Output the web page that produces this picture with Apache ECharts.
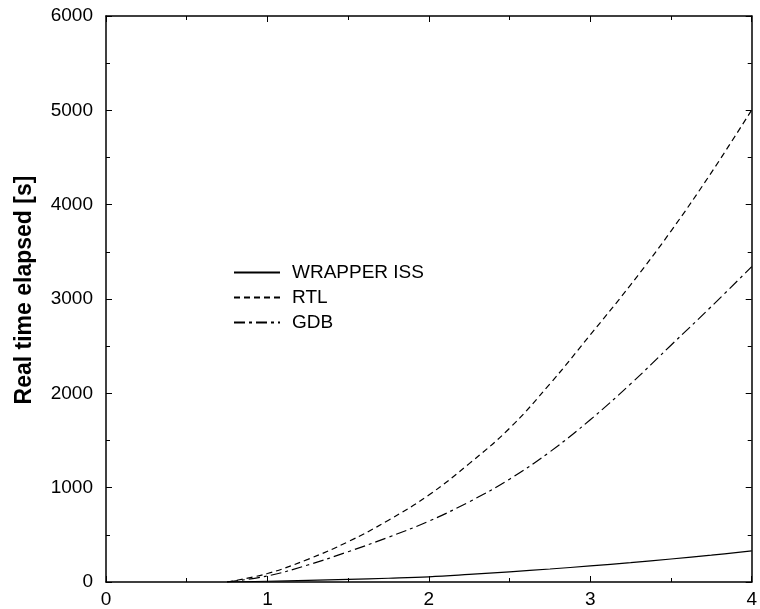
<!DOCTYPE html>
<html>
<head>
<meta charset="utf-8">
<script src="https://cdn.jsdelivr.net/npm/echarts@6/dist/echarts.min.js"></script>
<style>
html, body { margin: 0; padding: 0; background: #fff; }
#main { width: 760px; height: 609px; }
</style>
</head>
<body>
<div id="main"></div>
<script>
var xs = [0.75, 1, 1.25, 1.5, 1.75, 2, 2.25, 2.5, 2.75, 3, 3.25, 3.5, 3.75, 4];
var wrapperIss = [0, 8, 17, 28, 40, 55, 80, 108, 138, 170, 205, 244, 285, 329];
var rtl = [0, 90, 240, 427, 655, 922, 1255, 1630, 2100, 2620, 3150, 3720, 4340, 5004];
var gdb = [0, 64, 180, 321, 475, 645, 850, 1090, 1380, 1720, 2100, 2510, 2920, 3343];
var names = ['WRAPPER ISS', 'RTL', 'GDB'];

function pairs(vals) {
	var out = [];
	for (var i = 0; i < xs.length; i++) out.push([xs[i], vals[i]]);
	return out;
}

var font = 'Liberation Sans, Arial, sans-serif';
var myChart = echarts.init(document.getElementById('main'));

function frameAxis(pos, isX) {
	return {
		type: 'value',
		position: pos,
		min: 0,
		max: isX ? 4 : 6000,
		interval: isX ? 1 : 1000,
		axisLine: { show: true, onZero: false, lineStyle: { color: '#000', width: 1.5 } },
		axisTick: { show: true, inside: true, length: 6, lineStyle: { color: '#000' } },
		minorTick: { show: true, splitNumber: 2, length: 4, lineStyle: { color: '#000' } },
		splitLine: { show: false },
		axisLabel: { show: false }
	};
}

var xBottom = frameAxis('bottom', true);
xBottom.axisLabel = { show: true, color: '#000', fontSize: 19, fontFamily: font, margin: 8 };
var xTop = frameAxis('top', true);

var yLeft = frameAxis('left', false);
yLeft.axisLabel = {
	show: true, color: '#000', fontSize: 19, fontFamily: font, margin: 13,
	formatter: function (v) { return String(v); }
};
yLeft.name = 'Real time elapsed [s]';
yLeft.nameLocation = 'middle';
yLeft.nameGap = 70;
yLeft.nameTextStyle = { color: '#000', fontSize: 23, fontWeight: 'bold', fontFamily: font, padding: [0, 0, 0, 18] };
var yRight = frameAxis('right', false);

var dashes = ['solid', [6, 4], [11, 4, 3, 4]];
var datas = [wrapperIss, rtl, gdb];

var series = [];
for (var i = 0; i < names.length; i++) {
	series.push({
		name: names[i],
		type: 'line',
		smooth: 0.4,
		symbol: 'none',
		xAxisIndex: 0,
		yAxisIndex: 0,
		lineStyle: { color: '#000', width: 1.2, type: dashes[i] },
		itemStyle: { color: '#000' },
		data: pairs(datas[i])
	});
}

var option = {
	backgroundColor: '#fff',
	animation: false,
	grid: { left: 106, top: 16, right: 2, bottom: 27 },
	legend: {
		orient: 'vertical',
		left: 233,
		top: 263,
		padding: 0,
		itemWidth: 46,
		itemHeight: 14,
		itemGap: 6,
		itemStyle: { color: 'rgba(0,0,0,0)', borderWidth: 0 },
		textStyle: { color: '#000', fontSize: 19, lineHeight: 19, fontFamily: font, padding: [0, 0, 0, 7] },
		data: names
	},
	xAxis: [xBottom, xTop],
	yAxis: [yLeft, yRight],
	series: series
};

myChart.setOption(option);
</script>
</body>
</html>
